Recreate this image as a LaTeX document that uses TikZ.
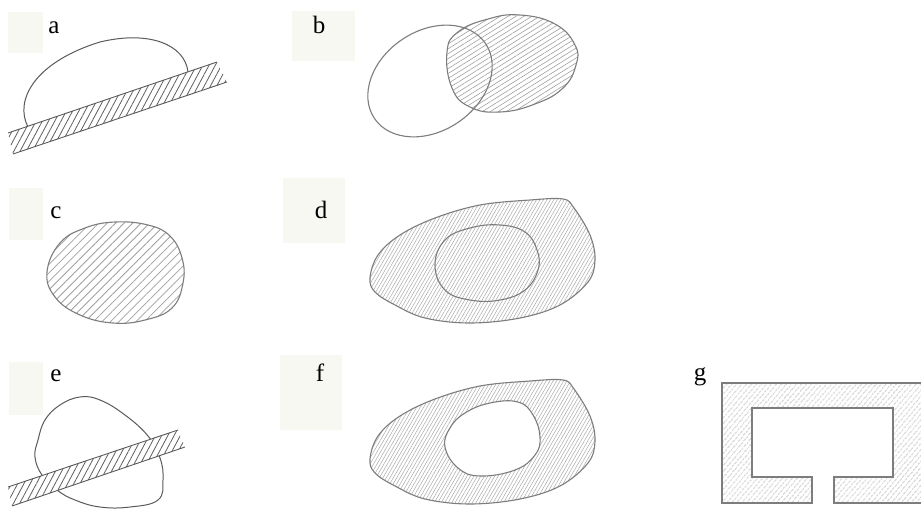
\documentclass[tikz,border=0pt]{standalone}
\usepackage{fontspec}
\setmainfont{Liberation Serif}
\usetikzlibrary{patterns.meta}
\definecolor{labelbg}{RGB}{248,248,242}
\definecolor{lineA}{RGB}{90,90,90}
\definecolor{lineB}{RGB}{125,125,125}
\definecolor{hatchA}{RGB}{95,95,95}
\definecolor{hatchB}{RGB}{160,160,160}
\definecolor{hatchD}{RGB}{170,170,170}
\tikzset{
  lbl/.style={font=\fontsize{25}{25}\selectfont, anchor=base, inner sep=0pt},
  lblbox/.style={fill=labelbg, draw=none},
  strip/.style={pattern={Lines[angle=62,distance=5.5pt,line width=0.8pt]}, pattern color=hatchA},
  stripedge/.style={draw=lineA, line width=0.9pt},
  outlA/.style={draw=lineA, line width=1pt},
  outlB/.style={draw=lineB, line width=1.1pt},
  hatchb/.style={pattern={Lines[angle=32,distance=4.2pt,line width=0.6pt]}, pattern color=hatchB},
  hatchc/.style={pattern={Lines[angle=45,distance=6pt,line width=0.8pt]}, pattern color=hatchB},
  hatchd/.style={pattern={Lines[angle=60,distance=3pt,line width=0.5pt]}, pattern color=hatchD},
  hatchg/.style={pattern={Lines[angle=50,distance=4pt,line width=0.7pt]}, pattern color=hatchB},
}
\def\outerblob{plot[smooth cycle, tension=0.6] coordinates{(370,278) (378,255) (400,235) (435,218) (480,205) (530,200) (563,199) (574,208) (590,235) (595,260) (588,282) (560,305) (520,318) (470,323) (425,318) (395,305) (375,292)}}
\def\rightblob{plot[smooth cycle, tension=0.75] coordinates{(447,52) (458,32) (488,19) (520,15) (555,24) (575,45) (576,65) (563,88) (535,104) (500,112) (470,107) (452,88)}}
\begin{document}
\begin{tikzpicture}[x=1pt,y=-1pt]
\useasboundingbox (0,0) rectangle (921,517);
\clip (0,0) rectangle (921,517);
\fill[white] (0,0) rectangle (921,517);

% label boxes
\fill[lblbox] (8,12) rectangle (43,53);
\fill[lblbox] (292,11) rectangle (355,61);
\fill[lblbox] (9,188) rectangle (43,240);
\fill[lblbox] (283,178) rectangle (345,243);
\fill[lblbox] (9,362) rectangle (43,415);
\fill[lblbox] (280,355) rectangle (342,430);

% labels
\node[lbl] (la) at (54,33) {a};
\node[lbl] (lb) at (319,33) {b};
\node[lbl] (lc) at (56,218) {c};
\node[lbl] (ld) at (321,218) {d};
\node[lbl] (le) at (56,381) {e};
\node[lbl] (lf) at (320,381) {f};
\node[lbl] (lg) at (700,380) {g};

% ---- a: drop on inclined surface
\draw[outlA] (28,127) .. controls (14,100) and (35,62) .. (100,42)
  .. controls (150,30) and (185,45) .. (188,72);
\path[fill=white] (8,133) -- (217,62) -- (227,82) -- (13,154) -- cycle;
\path[strip] (8,133) -- (217,62) -- (227,82) -- (13,154) -- cycle;
\draw[stripedge] (8,133) -- (217,62);
\draw[stripedge] (13,154) -- (227,82);

% ---- b: two overlapping ellipses
\path[hatchb] \rightblob;
\draw[outlB] \rightblob;
\draw[outlB, rotate around={34:(430,81)}] (430,81) ellipse [x radius=67, y radius=50];

% ---- c: hatched blob
\path[hatchc] plot[smooth cycle, tension=0.7] coordinates{(47,272) (60,243) (85,228) (115,222) (148,225) (170,236) (182,258) (183,283) (172,308) (145,320) (113,323) (80,315) (55,297)};
\draw[outlB] plot[smooth cycle, tension=0.7] coordinates{(47,272) (60,243) (85,228) (115,222) (148,225) (170,236) (182,258) (183,283) (172,308) (145,320) (113,323) (80,315) (55,297)};

% ---- d: hatched blob with inner contour
\path[hatchd] \outerblob;
\draw[outlB] \outerblob;
\draw[outlB] plot[smooth cycle, tension=0.7] coordinates{(435,265) (445,240) (470,228) (500,225) (525,232) (537,250) (538,270) (525,290) (500,300) (470,300) (445,290)};

% ---- e: blob crossed by inclined strip
\draw[outlA] plot[smooth cycle, tension=0.7] coordinates{(80,397) (60,405) (45,420) (38,440) (35,457) (42,475) (57,490) (75,500) (100,507) (130,507) (158,500) (163,480) (160,458) (148,436) (125,415) (100,400)};
\path[fill=white] (8,487) -- (178,430) -- (185,447) -- (12,506) -- cycle;
\path[strip] (8,487) -- (178,430) -- (185,447) -- (12,506) -- cycle;
\draw[stripedge] (8,487) -- (178,430);
\draw[stripedge] (12,506) -- (185,447);

% ---- f: hatched ring
\begin{scope}[shift={(0,181)}]
\path[hatchd, even odd rule] \outerblob
  plot[smooth cycle, tension=0.7] coordinates{(445,266) (450,247) (465,232) (490,222) (518,221) (533,234) (540,256) (535,274) (515,289) (480,295) (458,287)};
\draw[outlB] \outerblob;
\draw[outlB] plot[smooth cycle, tension=0.7] coordinates{(445,266) (450,247) (465,232) (490,222) (518,221) (533,234) (540,256) (535,274) (515,289) (480,295) (458,287)};
\end{scope}

% ---- g: slotted section
\path[hatchg] (722,383) -- (925,383) -- (925,503) -- (834,503) -- (834,477) -- (893,477) -- (893,408) -- (752,408) -- (752,477) -- (812,477) -- (812,503) -- (722,503) -- cycle;
\draw[outlB] (722,383) -- (925,383) -- (925,503) -- (834,503) -- (834,477) -- (893,477) -- (893,408) -- (752,408) -- (752,477) -- (812,477) -- (812,503) -- (722,503) -- cycle;
\end{tikzpicture}
\end{document}
